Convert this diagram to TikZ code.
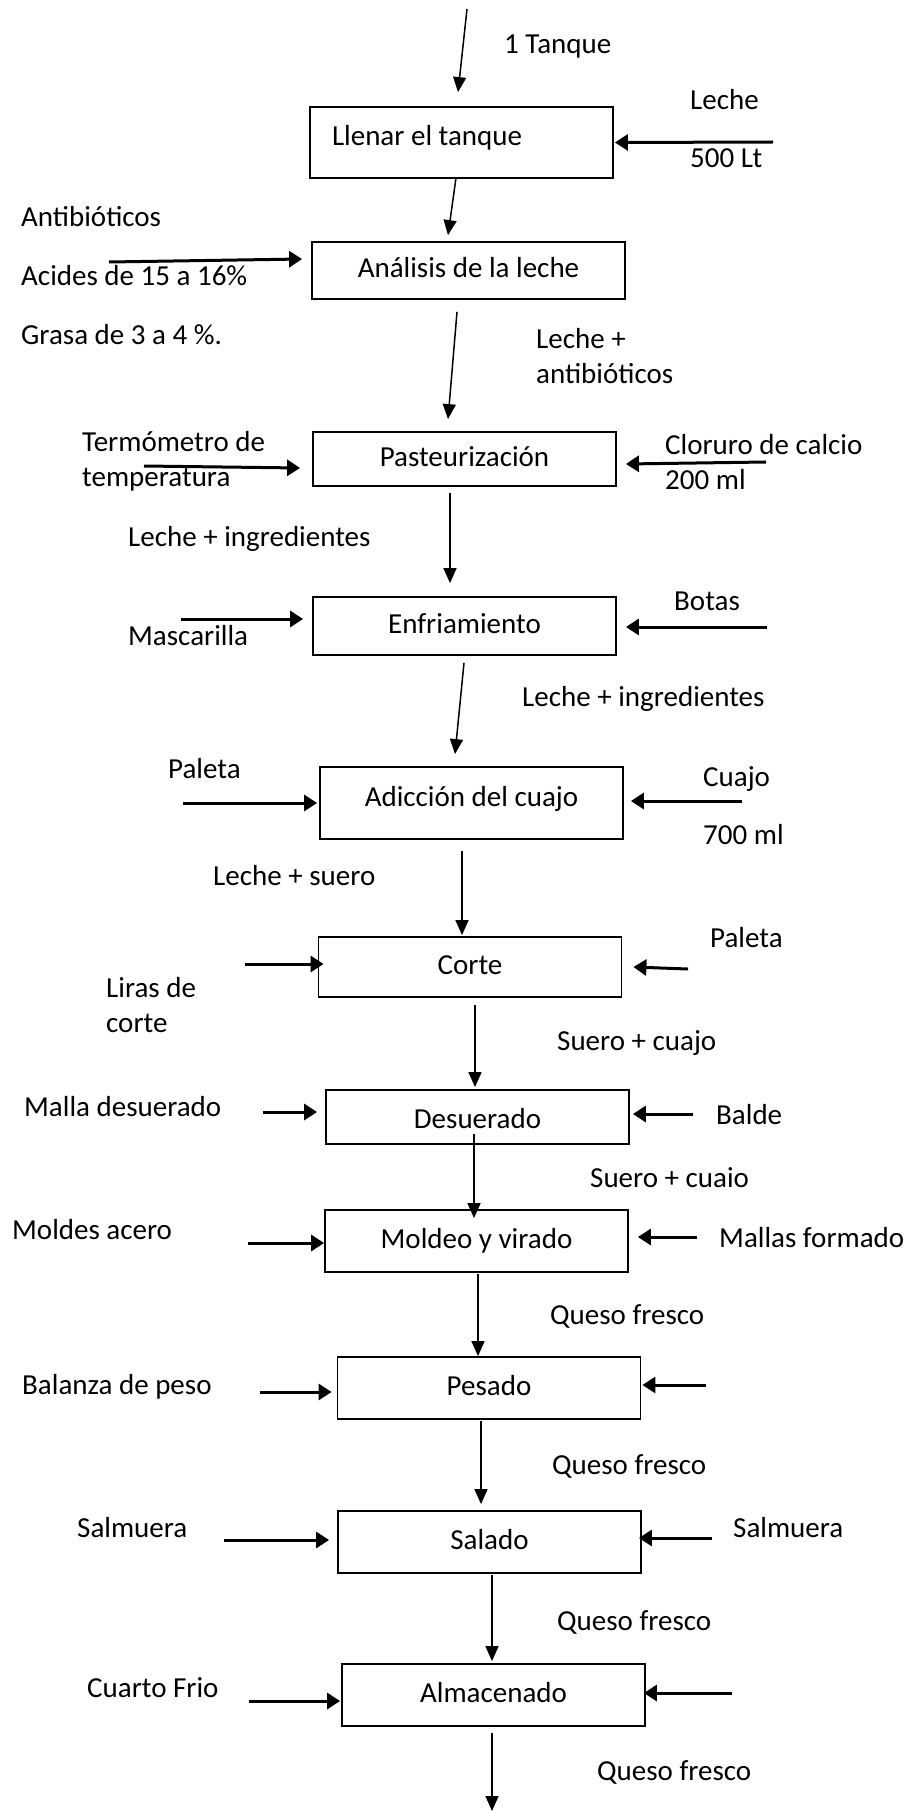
\documentclass[tikz,border=0pt]{standalone}
\usepackage{fontspec}
\setmainfont{Carlito}
\usetikzlibrary{arrows.meta}
\tikzset{procbox/.style={rectangle,draw,line width=1.8pt,minimum width=303pt,inner sep=0pt,align=center,text height=20pt,text depth=6pt},lbl/.style={anchor=west,inner sep=0pt,align=left},one/.style={text height=20pt,text depth=6pt},flow/.style={line width=1.5pt,-{Triangle[length=15pt,width=13pt]}},feed/.style={line width=3pt,-{Triangle[length=13pt,width=16pt]}}}

\begin{document}
\begin{tikzpicture}[x=1pt,y=-1pt,font=\fontsize{29}{35}\selectfont]
\useasboundingbox (0,0) rectangle (906,1811);
% process steps
\node[procbox,minimum height=71pt,text width=259pt,align=flush left,inner xsep=22pt,text depth=14pt] (llenar) at (461.5,142.5) {Llenar el tanque};
\node[procbox,minimum height=57pt,minimum width=313pt] (analisis) at (468.5,270.5) {Análisis de la leche};
\node[procbox,minimum height=54pt] (pasteur) at (464.5,459) {Pasteurización};
\node[procbox,minimum height=58pt] (enfria) at (464.5,626) {Enfriamiento};
\node[procbox,minimum height=72pt,text depth=14pt] (cuajo) at (471.5,803) {Adicción del cuajo};
\node[procbox,minimum height=60pt] (corte) at (470,967) {Corte};
\node[procbox,minimum height=54pt,text height=26pt,text depth=4pt] (desuer) at (477.5,1117) {Desuerado};
\node[procbox,minimum height=62pt] (moldeo) at (476.5,1241) {Moldeo y virado};
\node[procbox,minimum height=62pt] (pesado) at (489,1388) {Pesado};
\node[procbox,minimum height=62pt] (salado) at (489.5,1542) {Salado};
\node[procbox,minimum height=62pt] (almacen) at (493.5,1695) {Almacenado};
% free ends
\coordinate (inicio) at (467,9);
\coordinate (fin) at (492,1811);
\coordinate (inAnalisis) at (109,262);
\coordinate (inPasteur) at (144,466);
\coordinate (inEnfria) at (181,619);
\coordinate (inCuajo) at (183,803);
\coordinate (inCorte) at (245,964);
\coordinate (inDesuer) at (263,1112);
\coordinate (inMoldeo) at (248,1243);
\coordinate (inPesado) at (260,1392);
\coordinate (inSalado) at (224,1540);
\coordinate (inAlmacen) at (249,1701);
\coordinate (exLlenar) at (773,142);
\coordinate (exPasteur) at (766,462);
\coordinate (exEnfria) at (767,627);
\coordinate (exCuajo) at (742,801);
\coordinate (exCorte) at (688,969);
\coordinate (exDesuer) at (693,1114);
\coordinate (exMoldeo) at (697,1237);
\coordinate (exPesado) at (706,1385);
\coordinate (exSalado) at (712,1538);
\coordinate (exAlmacen) at (732,1693);
% main line
\draw[flow] (inicio) -- ([xshift=-3.5pt,yshift=14pt]llenar.north);
\draw[flow] ([xshift=-5.5pt,yshift=1pt]llenar.south) -- ([xshift=-20.5pt,yshift=6pt]analisis.north);
\draw[flow] ([xshift=-11.5pt,yshift=-12pt]analisis.south) -- ([xshift=-16.5pt,yshift=12pt]pasteur.north);
\draw[flow] ([xshift=-14.5pt,yshift=-6pt]pasteur.south) -- ([xshift=-14.5pt,yshift=13pt]enfria.north);
\draw[flow] ([xshift=-0.5pt,yshift=-7pt]enfria.south) -- ([xshift=-16.5pt,yshift=12pt]cuajo.north);
\draw[flow] ([xshift=-9.5pt,yshift=-11pt]cuajo.south) -- ([xshift=-8pt,yshift=1pt]corte.north);
\draw[flow] ([xshift=5pt,yshift=-7pt]corte.south) -- ([xshift=-2.5pt,yshift=2pt]desuer.north);
\draw[flow] ([xshift=-3.5pt,yshift=11pt]desuer.south) -- ([xshift=-2.5pt,yshift=-9pt]moldeo.north);
\draw[flow] ([xshift=1.5pt,yshift=-1pt]moldeo.south) -- ([xshift=-11pt]pesado.north);
\draw[flow] ([xshift=-8pt,yshift=-1pt]pesado.south) -- ([xshift=-8.5pt,yshift=6pt]salado.north);
\draw[flow] ([xshift=2.5pt,yshift=-1pt]salado.south) -- ([xshift=-1.5pt,yshift=2pt]almacen.north);
\draw[flow] ([xshift=-1.5pt,yshift=-6pt]almacen.south) -- (fin);
% inputs from the left
\draw[feed] (inAnalisis) -- ([xshift=-9pt,yshift=11.5pt]analisis.west);
\draw[feed] (inPasteur) -- ([xshift=-12pt,yshift=-9pt]pasteur.west);
\draw[feed] (inEnfria) -- ([xshift=-9pt,yshift=7pt]enfria.west);
\draw[feed] (inCuajo) -- ([xshift=-2pt]cuajo.west);
\draw[feed] (inCorte) -- ([xshift=6pt,yshift=3pt]corte.west);
\draw[feed] (inDesuer) -- ([xshift=-8pt,yshift=5pt]desuer.west);
\draw[feed] (inMoldeo) -- ([yshift=-2pt]moldeo.west);
\draw[feed] (inPesado) -- ([xshift=-5pt,yshift=-4pt]pesado.west);
\draw[feed] (inSalado) -- ([xshift=-8pt,yshift=2pt]salado.west);
\draw[feed] (inAlmacen) -- ([xshift=-1pt,yshift=-6pt]almacen.west);
% inputs from the right
\draw[feed] (exLlenar) -- ([xshift=1pt]llenar.east);
\draw[feed] (exPasteur) -- ([xshift=9pt,yshift=-5pt]pasteur.east);
\draw[feed] (exEnfria) -- ([xshift=9pt,yshift=-1pt]enfria.east);
\draw[feed] (exCuajo) -- ([xshift=7pt,yshift=2pt]cuajo.east);
\draw[feed] (exCorte) -- ([xshift=11pt]corte.east);
\draw[feed] (exDesuer) -- ([xshift=3pt,yshift=3pt]desuer.east);
\draw[feed] (exMoldeo) -- ([xshift=9pt,yshift=4pt]moldeo.east);
\draw[feed] (exPesado) -- ([xshift=1pt,yshift=3pt]pesado.east);
\draw[feed] (exSalado) -- ([xshift=-3pt,yshift=4pt]salado.east);
\draw[feed] (exAlmacen) -- ([xshift=-2pt,yshift=2pt]almacen.east);
% labels
\node[lbl,one] (tanque) at (504,47) {1 Tanque};
\node[lbl,one] (leche) at (690,103) {Leche};
\node[lbl,one] (litros) at (690,161) {500 Lt};
\node[lbl,one] (antib) at (21,220) {Antibióticos};
\node[lbl,one] (acidez) at (21,278) {Acides de 15 a 16\%};
\node[lbl,one] (grasa) at (21,337) {Grasa de 3 a 4 \%.};
\node[lbl] (lecheAntib) at (536,356) {Leche +\\antibióticos};
\node[lbl] (termo) at (82,461) {Termómetro de\\temperatura};
\node[lbl] (cloruro) at (665,462) {Cloruro de calcio\\200 ml};
\node[lbl,one] (ingr1) at (128,539) {Leche + ingredientes};
\node[lbl,one] (masc) at (128,638) {Mascarilla};
\node[lbl,one] (botas) at (674,603) {Botas};
\node[lbl,one] (ingr2) at (522,699) {Leche + ingredientes};
\node[lbl,one] (paleta1) at (168,771) {Paleta};
\node[lbl,one] (cuajoIn) at (703,779) {Cuajo};
\node[lbl,one] (mililitros) at (703,837) {700 ml};
\node[lbl,one] (suero1) at (213,878) {Leche + suero};
\node[lbl] (liras) at (106,1005) {Liras de\\corte};
\node[lbl,one] (paleta2) at (710,940) {Paleta};
\node[lbl,one] (suero2) at (557,1043) {Suero + cuajo};
\node[lbl,one] (malla) at (24,1109) {Malla desuerado};
\node[lbl,one] (balde) at (716,1117) {Balde};
\node[lbl,one] (suero3) at (590,1180) {Suero + cuaio};
\node[lbl,one] (moldes) at (12,1232) {Moldes acero};
\node[lbl,one] (mallas) at (719,1240) {Mallas formado};
\node[lbl,one] (queso1) at (550,1317) {Queso fresco};
\node[lbl,one] (balanza) at (22,1387) {Balanza de peso};
\node[lbl,one] (queso2) at (552,1467) {Queso fresco};
\node[lbl,one] (salm1) at (77,1530) {Salmuera};
\node[lbl,one] (salm2) at (733,1530) {Salmuera};
\node[lbl,one] (queso3) at (557,1623) {Queso fresco};
\node[lbl,one] (cuarto) at (87,1690) {Cuarto Frio};
\node[lbl,one] (queso4) at (597,1773) {Queso fresco};
\end{tikzpicture}
\end{document}
